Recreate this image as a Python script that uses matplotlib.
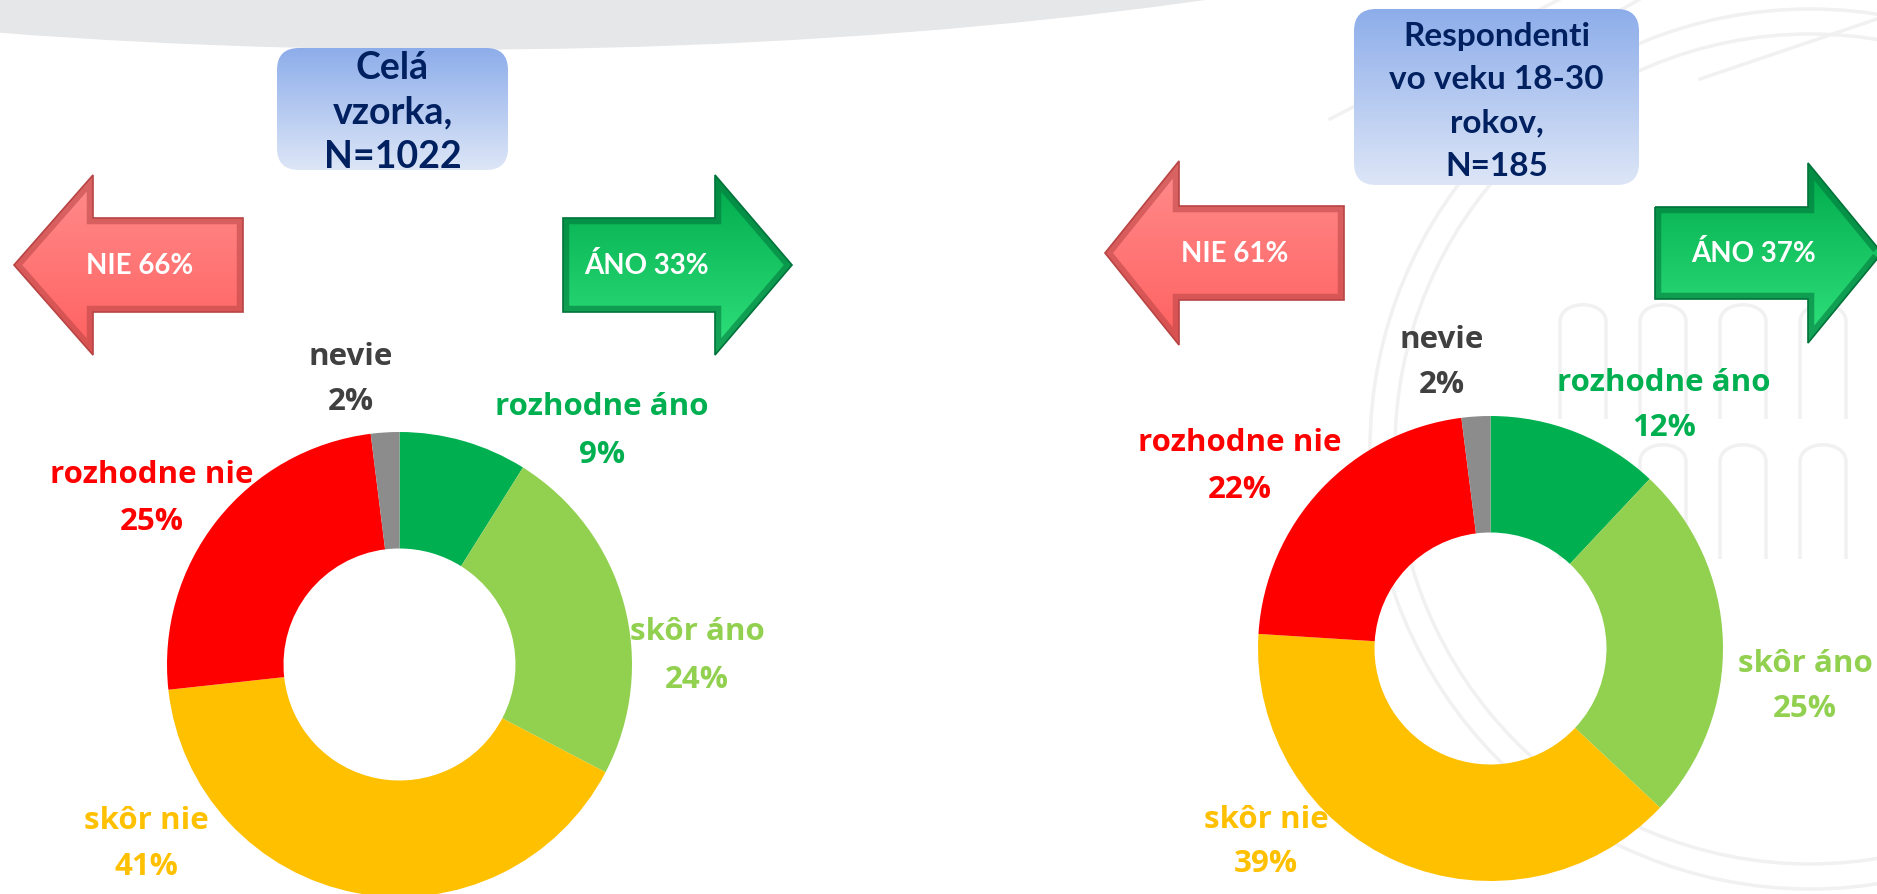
import numpy as np
import matplotlib
matplotlib.use('Agg')
import matplotlib.pyplot as plt
from matplotlib import patches
from matplotlib.path import Path

# data
categories = ['rozhodne áno', 'skôr áno', 'skôr nie', 'rozhodne nie', 'nevie']
colors = ['#00B050', '#92D050', '#FFC000', '#FF0000', '#8C8C8C']
label_colors = ['#00B050', '#92D050', '#FFC000', '#FF0000', '#404040']
left_vals = [9, 24, 41, 25, 2]
right_vals = [12, 25, 39, 22, 2]
left_title = ['Celá', 'vzorka,', 'N=1022']
right_title = ['Respondenti', 'vo veku 18-30', 'rokov,', 'N=185']
left_nie, left_ano = 66, 33
right_nie, right_ano = 61, 37

W, H = 1877, 895
LABEL_FONT = 'Open Sans'
BOX_FONT = 'Lato'


def Y(y):
    # pixel row (from top) -> data y
    return H - y


fig = plt.figure(figsize=(W / 100, H / 100), dpi=100)
ax = fig.add_axes([0, 0, 1, 1])

# background: grey band on top
ax.add_patch(patches.Ellipse((450, H + 350), 3130, 800, color='#E6E7E9', zorder=0))

# faint watermark on the right
wm = dict(color='#F1F1F1', lw=2.5, zorder=0.5, fill=False)
for r in (440, 415):
    ax.add_patch(patches.Circle((1810, Y(450)), r, **wm))
for x0 in (1560, 1640, 1720, 1800):
    for (yt, yb) in ((300, 420), (440, 560)):
        w = 46
        verts = [(x0, Y(yb)), (x0, Y(yt + w / 2)), (x0, Y(yt)), (x0 + w, Y(yt)),
                 (x0 + w, Y(yt + w / 2)), (x0 + w, Y(yb))]
        codes = [Path.MOVETO, Path.LINETO, Path.CURVE4, Path.CURVE4, Path.CURVE4, Path.LINETO]
        ax.add_patch(patches.PathPatch(Path(verts, codes), **wm))
for (xa, ya, xb, yb) in ((1330, 120, 1560, 0), (1380, 150, 1640, 0), (1700, 80, 1877, 20)):
    ax.plot([xa, xb], [Y(ya), Y(yb)], color='#F1F1F1', lw=2.5, zorder=0.5)


def gradient_box(x0, y0, x1, y1, lines, ys, size):
    box = patches.FancyBboxPatch((x0, Y(y1)), x1 - x0, y1 - y0,
                                 boxstyle='round,pad=0,rounding_size=22',
                                 fc='none', ec='none', zorder=2)
    ax.add_patch(box)
    grad = np.linspace(0, 1, 256).reshape(-1, 1)
    cmap = matplotlib.colors.LinearSegmentedColormap.from_list('b', ['#8DADEA', '#DDE6F7'])
    im = ax.imshow(grad, cmap=cmap, extent=(x0, x1, Y(y1), Y(y0)), origin='upper',
                   aspect='auto', zorder=2)
    im.set_clip_path(box)
    cx = (x0 + x1) / 2
    for t, yy in zip(lines, ys):
        ax.text(cx, Y(yy), t, ha='center', va='center', fontsize=size,
                fontweight='bold', family=BOX_FONT, color='#002060', zorder=3)


def arrow(tail, base, tip, yc, half_shaft, half_head, text, c_top, c_bot, c_edge, tx):
    pts = [(tail, yc - half_shaft), (base, yc - half_shaft), (base, yc - half_head),
           (tip, yc), (base, yc + half_head), (base, yc + half_shaft), (tail, yc + half_shaft)]
    pts = [(x, Y(y)) for x, y in pts]
    poly = patches.Polygon(pts, closed=True, fc='none', ec='none', zorder=2)
    ax.add_patch(poly)
    grad = np.linspace(0, 1, 256).reshape(-1, 1)
    cmap = matplotlib.colors.LinearSegmentedColormap.from_list('a', [c_top, c_bot])
    xs = sorted([tail, tip])
    im = ax.imshow(grad, cmap=cmap, extent=(xs[0], xs[1], Y(yc + half_head), Y(yc - half_head)),
                   origin='upper', aspect='auto', zorder=2)
    im.set_clip_path(poly)
    bevel = patches.Polygon(pts, closed=True, fc='none', ec=c_edge, lw=9, joinstyle='miter',
                            zorder=2.1, alpha=0.55)
    ax.add_patch(bevel)
    bevel.set_clip_path(poly)
    ax.add_patch(patches.Polygon(pts, closed=True, fc='none', ec=c_edge, lw=1.2, zorder=2.2))
    ax.text(tx, Y(yc), text, ha='center', va='center', fontsize=20, fontweight='bold',
            family=BOX_FONT, color='white', zorder=3)


RED = ('#FF8C8C', '#FF6060', '#B84444')
GREEN = ('#00A94B', '#30E27C', '#00733A')


def donut(vals, cx, cy, label_pos):
    ax.pie(vals, colors=colors, startangle=90, counterclock=False, radius=232.5,
           center=(cx, Y(cy)), wedgeprops=dict(width=116.5, linewidth=0))
    for cat, v, col, (lx, ly1, ly2) in zip(categories, vals, label_colors, label_pos):
        ax.text(lx, Y(ly1), cat, ha='center', va='center', fontsize=22.5, fontweight='bold',
                family=LABEL_FONT, color=col, zorder=3)
        ax.text(lx, Y(ly2), f'{v}%', ha='center', va='center', fontsize=22.5, fontweight='bold',
                family=LABEL_FONT, color=col, zorder=3)


# left panel
gradient_box(277, 49, 508, 171, left_title, [68, 112, 157], 27)
arrow(243, 93, 14, 266, 47, 90, f'NIE {left_nie}%', *RED, tx=140)
arrow(563, 715, 792, 266, 47, 90, f'ÁNO {left_ano}%', *GREEN, tx=646)
donut(left_vals, 399.5, 665.5,
      [(602, 407, 455), (697, 632, 680), (146, 821, 867), (152, 475, 522), (351, 357, 402)])

# right panel
gradient_box(1354, 10, 1639, 186, right_title, [36, 79, 123, 167], 24)
arrow(1344, 1179, 1105, 254, 47, 92, f'NIE {right_nie}%', *RED, tx=1235)
arrow(1655, 1808, 1882, 254, 46, 90, f'ÁNO {right_ano}%', *GREEN, tx=1754)
donut(right_vals, 1490.5, 649.5,
      [(1664, 383, 428), (1805, 664, 709), (1266, 820, 864), (1240, 443, 490), (1442, 340, 385)])

ax.set_xlim(0, W)
ax.set_ylim(0, H)
ax.set_aspect('auto')
ax.axis('off')
fig.savefig('out.png', dpi=100)
